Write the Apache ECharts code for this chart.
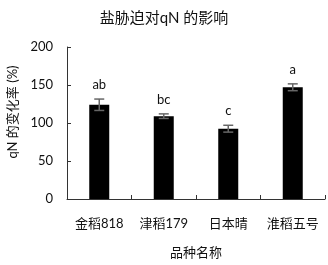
<!DOCTYPE html>
<html>
<head>
<meta charset="utf-8">
<script src="https://cdn.jsdelivr.net/npm/echarts@6/dist/echarts.min.js"></script>
<style>
  html, body { margin: 0; padding: 0; background: #fff; }
  #main { width: 328px; height: 265px; }
</style>
</head>
<body>
<div id="main"></div>
<script>
// 品种 / qN 变化率数据
var categories = ['金稻818', '津稻179', '日本晴', '淮稻五号'];
var values = [124, 109, 92.5, 147];
var errors = [7.5, 3, 4.5, 4.5];
var letters = ['ab', 'bc', 'c', 'a'];
var yTicks = [0, 50, 100, 150, 200];

var FONT = "Lato, 'Noto Sans CJK SC', sans-serif";
var chart = echarts.init(document.getElementById('main'));

var errData = values.map(function (v, i) {
  return [i, v, errors[i], letters[i]];
});

var option = {
  animation: false,
  textStyle: { fontFamily: FONT },
  title: {
    text: '盐胁迫对qN 的影响',
    left: 'center',
    top: 6,
    textStyle: { fontFamily: FONT, fontSize: 15, fontWeight: 'normal', color: '#111' }
  },
  grid: { left: 67, right: 3, top: 47, bottom: 66 },
  xAxis: {
    type: 'category',
    data: categories,
    name: '品种名称',
    nameLocation: 'middle',
    nameGap: 47,
    nameTextStyle: { fontFamily: FONT, fontSize: 13, color: '#111' },
    axisLine: { lineStyle: { color: '#333', width: 1 } },
    axisTick: { show: true, inside: true, length: 4, interval: 0, lineStyle: { color: '#333' } },
    axisLabel: { interval: 0, margin: 18, fontFamily: FONT, fontSize: 13, color: '#111' }
  },
  yAxis: {
    type: 'value',
    min: yTicks[0],
    max: yTicks[yTicks.length - 1],
    interval: 50,
    splitLine: { show: false },
    axisLine: { show: true, lineStyle: { color: '#333', width: 1 } },
    axisTick: { show: true, inside: true, length: 4, lineStyle: { color: '#333' } },
    axisLabel: { margin: 14, fontFamily: FONT, fontSize: 13, color: '#111' }
  },
  graphic: [{
    type: 'text',
    x: 13,
    y: 112,
    rotation: Math.PI / 2,
    style: {
      text: 'qN 的变化率 (%)',
      fontFamily: FONT,
      fontSize: 13,
      fill: '#111',
      textAlign: 'center',
      textVerticalAlign: 'middle'
    }
  }],
  series: [
    {
      type: 'bar',
      data: values,
      barWidth: 20,
      itemStyle: { color: '#000' }
    },
    {
      type: 'custom',
      data: errData,
      z: 10,
      renderItem: function (params, api) {
        var i = api.value(0), v = api.value(1), e = api.value(2);
        var top = api.coord([i, v + e]);
        var bot = api.coord([i, v - e]);
        var hw = 5;
        var st = { stroke: '#666', lineWidth: 1.5 };
        return {
          type: 'group',
          children: [
            { type: 'line', shape: { x1: top[0], y1: top[1], x2: bot[0], y2: bot[1] }, style: st },
            { type: 'line', shape: { x1: top[0] - hw, y1: top[1], x2: top[0] + hw, y2: top[1] }, style: st },
            { type: 'line', shape: { x1: bot[0] - hw, y1: bot[1], x2: bot[0] + hw, y2: bot[1] }, style: st },
            {
              type: 'text',
              style: {
                x: top[0], y: top[1] - 8,
                text: letters[params.dataIndex],
                fontFamily: FONT, fontSize: 13, fill: '#111',
                textAlign: 'center', textVerticalAlign: 'bottom'
              }
            }
          ]
        };
      }
    }
  ]
};
chart.setOption(option);
</script>
</body>
</html>
